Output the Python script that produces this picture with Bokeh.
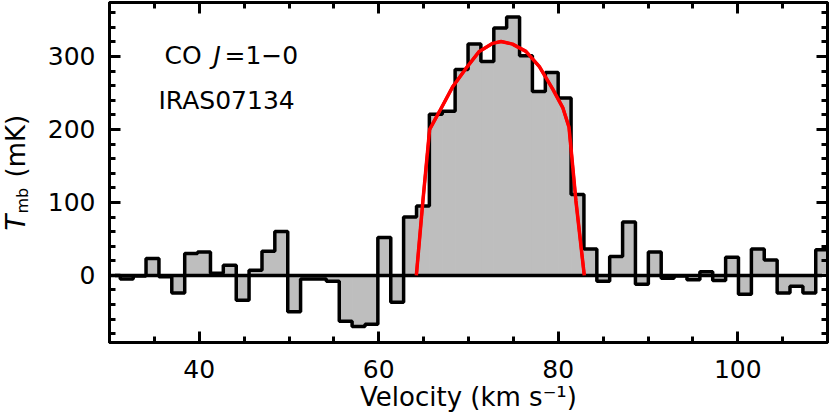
import numpy as np
from bokeh.plotting import figure
from bokeh.layouts import row
from bokeh.models import (LinearAxis, SingleIntervalTicker, Label, Range1d,
                          ColumnDataSource, CustomJSTickFormatter)
from bokeh.core.properties import value
from bokeh.embed import file_html
from bokeh.resources import INLINE

# ---- data ----
chan_left = [29.77, 31.20, 32.64, 34.07, 35.51, 36.94, 38.38, 39.81, 41.25, 42.68,
             44.12, 45.55, 46.99, 48.42, 49.86, 51.29, 52.73, 54.16, 55.60, 57.03,
             58.47, 59.90, 61.34, 62.77, 64.21, 65.64, 67.08, 68.51, 69.95, 71.38,
             72.82, 74.25, 75.69, 77.12, 78.56, 79.99, 81.43, 82.86, 84.30, 85.73,
             87.17, 88.60, 90.04, 91.47, 92.91, 94.34, 95.78, 97.21, 98.65, 100.08,
             101.52, 102.95, 104.39, 105.82, 107.26, 108.69]
chan_last_right = 110.13
tmb = [0, -5, -1, 23, -2, -24, 30, 32, 3, 14,
       -34, 7, 33, 60, -50, -5, -5, -8, -63, -70,
       -67, 52, -37, 80, 95, 221, 225, 282, 317, 293,
       339, 354, 301, 252, 278, 243, 111, 36, -8, 26,
       73, -12, 32, -4, -1, -6, 5, -7, 25, -26,
       36, 21, -24, -15, -24, 35]

fit_v = [30.0, 64.19, 64.92, 65.67, 66.78, 68.26, 69.74, 71.2, 72.7, 73.63,
         74.9, 76.4, 77.9, 79.4, 80.5, 81.2, 81.97, 82.9, 110.0]
fit_t = [0, 0, 102, 200, 225, 259, 284, 307, 318, 320.6,
         317, 307, 286, 255, 230, 203, 102, 0, 0]

x_major = 20
y_major = 100
F = "DejaVu Sans"

# ---- main figure ----
p = figure(width=786, height=417, x_range=Range1d(30, 110), y_range=Range1d(-92, 374),
           output_backend="svg", toolbar_location=None,
           min_border_left=64, min_border_right=3, min_border_top=2, min_border_bottom=75)
p.grid.visible = False
p.outline_line_color = "black"
p.outline_line_width = 3

chan_right = chan_left[1:] + [chan_last_right]
src = ColumnDataSource(dict(left=chan_left, right=chan_right, top=tmb))
p.quad(left="left", right="right", top="top", bottom=0, source=src,
       fill_color="#bebebe", line_color="#bebebe", line_width=1)

p.line(fit_v, fit_t, line_color="#ff0000", line_width=3)
p.line([30.6, 109.4], [0, 0], line_color="black", line_width=3.5)
p.step(chan_left + [chan_last_right], tmb + [tmb[-1]], mode="after",
       line_color="black", line_width=3.5)
p.line(fit_v[1:-1], fit_t[1:-1], line_color="#ff0000", line_width=3.5)

def style_axis(ax):
    ax.axis_line_width = 3
    ax.major_tick_in = 11
    ax.major_tick_out = 0
    ax.minor_tick_in = 6
    ax.minor_tick_out = 0
    ax.major_tick_line_width = 3
    ax.minor_tick_line_width = 3
    ax.major_label_text_font = F
    ax.major_label_text_color = "black"
    ax.major_label_text_font_size = "25px"

p.xaxis.ticker = SingleIntervalTicker(interval=x_major, num_minor_ticks=4)
p.yaxis.ticker = SingleIntervalTicker(interval=y_major, num_minor_ticks=5)
for ax in p.xaxis:
    style_axis(ax)
    ax.major_label_standoff = 17
    ax.axis_label = "Velocity (km s\u207b\u00b9)"
    ax.axis_label_text_font = F
    ax.axis_label_text_font_size = "26px"
    ax.axis_label_text_font_style = "normal"
    ax.axis_label_text_color = "black"
    ax.axis_label_standoff = 1
for ax in p.yaxis:
    style_axis(ax)
    ax.major_label_standoff = 14

top = LinearAxis(ticker=SingleIntervalTicker(interval=x_major, num_minor_ticks=4),
                 formatter=CustomJSTickFormatter(code="return ''"))
style_axis(top)
top.major_label_text_font_size = "1px"
top.major_label_standoff = 0
p.add_layout(top, "above")
right = LinearAxis(ticker=SingleIntervalTicker(interval=y_major, num_minor_ticks=5),
                   formatter=CustomJSTickFormatter(code="return ''"))
style_axis(right)
right.major_label_text_font_size = "1px"
right.major_label_standoff = 0
p.add_layout(right, "right")

def lab(text, x, y, size, style="normal"):
    p.add_layout(Label(x=x, y=y, x_units="screen", y_units="screen", text=text,
                       text_font=F, text_font_size=size, text_font_style=style,
                       text_color="black", text_align="left", text_baseline="alphabetic"))

lab("CO", 55, 287, "25px")
lab("J", 104, 287, "25px", "italic")
lab("=1\u22120", 115, 287, "25px")
lab("IRAS07134", 49, 242, "25px")

# ---- y-axis title panel (its frame is aligned with the main frame) ----
fy = figure(width=44, height=417, x_range=Range1d(0, 44), y_range=Range1d(75, 415),
            output_backend="svg", toolbar_location=None, min_border=0,
            x_axis_location=None, y_axis_location=None, outline_line_color=None)
fy.grid.visible = False
ytitle = ColumnDataSource(dict(
    x=[15, 22, 15], y=[187, 204, 240], text=["T", "mb", "(mK)"],
    size=["26px", "16px", "26px"], style=["italic", "normal", "normal"]))
fy.text(x="x", y="y", text="text", source=ytitle, angle=np.pi / 2,
        text_font=value(F), text_font_size="size", text_font_style="style",
        text_color="black", text_align="left", text_baseline="alphabetic")

layout = row(fy, p)
open("out.html", "w").write(file_html(layout, INLINE))
